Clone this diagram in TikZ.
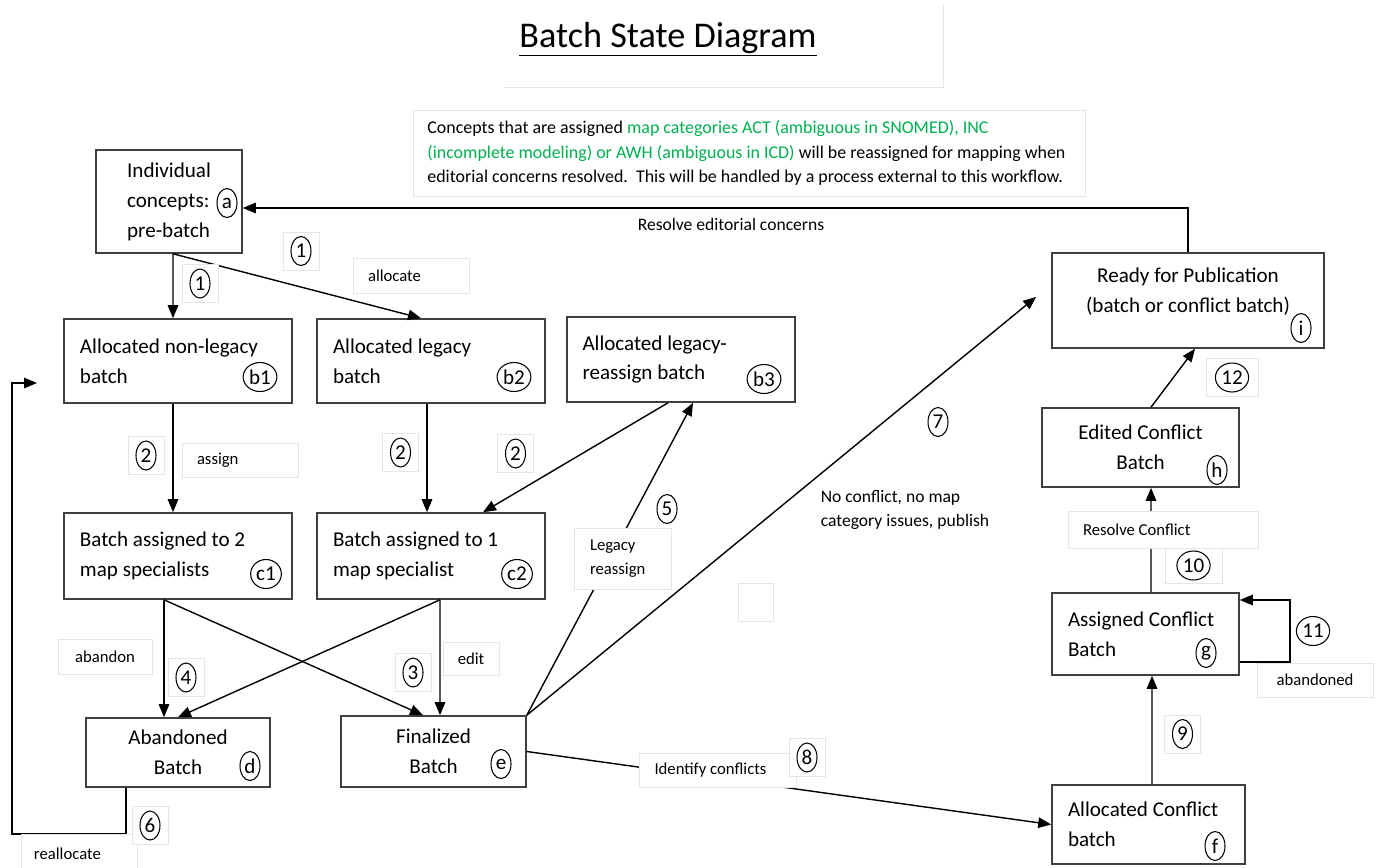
\documentclass[tikz,border=0pt]{standalone}
\usepackage{fontspec}
\setmainfont{Carlito}
\usepackage{xcolor}
\usepackage{tikz}
\usetikzlibrary{positioning, quotes}
\usetikzlibrary{arrows.meta,shapes.geometric}
\definecolor{notegreen}{RGB}{0,176,80}

\begin{document}
\begin{tikzpicture}
        [
        x=0.2mm, y=-0.2mm,
        >={Triangle[length=2.6mm,width=2.1mm]},
        state/.style = {draw=black!75, line width=0.9pt, inner sep=0pt, font=\fontsize{12}{17}\selectfont},
        lstate/.style = {state, align=flush left},
        cstate/.style = {state, align=center},
        tag/.style = {ellipse, draw, line width=0.6pt, inner sep=0.6pt, minimum width=4mm, minimum height=5.8mm, font=\fontsize{12}{12}\selectfont},
        numbox/.style = {draw=black!10, fill=white, minimum width=7.2mm, minimum height=7.6mm},
        lbl/.style = {draw=black!10, fill=white, inner sep=0pt, font=\fontsize{9.5}{14}\selectfont},
        flow/.style = {->, line width=0.8pt}
        ]
    \useasboundingbox (0,0) rectangle (1379,867);

    \node[anchor=base, font=\fontsize{20.6}{24}\selectfont] (title) at (668,47) {\underline{Batch State Diagram}};
    \draw[black!10] (505,87) -- (943,87) -- (943,5);
    \node[lbl, anchor=west, inner xsep=2.8mm, minimum height=17.2mm, text width=128.8mm, align=flush left, font=\fontsize{10.2}{14}\selectfont] (note) at (413,153)
        {Concepts that are assigned {\color{notegreen}map categories ACT (ambiguous in SNOMED), INC}\\
         {\color{notegreen}(incomplete modeling) or AWH (ambiguous in ICD)} will be reassigned for mapping when\\
         editorial concerns resolved.\ \ This will be handled by a process external to this workflow.};

    \node[cstate, minimum width=29.2mm, minimum height=20.6mm, align=left] (a) at (169,201.5) {Individual\\concepts:\hspace{5mm}\\pre-batch};
    \node[lstate, minimum width=45.6mm, minimum height=16.8mm, text width=39.2mm] (b1) at (178,361) {Allocated non-legacy\\batch};
    \node[lstate, minimum width=45.6mm, minimum height=16.8mm, text width=39.2mm] (b2) at (431,361) {Allocated legacy\\batch};
    \node[lstate, minimum width=45.6mm, minimum height=17mm, text width=39.4mm] (b3) at (681,359.5) {Allocated legacy-\\reassign batch};
    \node[lstate, minimum width=45.6mm, minimum height=17.2mm, text width=39.2mm] (c1) at (178,556) {Batch assigned to 2\\map specialists};
    \node[lstate, minimum width=45.6mm, minimum height=17.2mm, text width=39.2mm] (c2) at (431,556) {Batch assigned to 1\\map specialist};
    \node[cstate, minimum width=36.8mm, minimum height=13.8mm] (d) at (178,752.5) {Abandoned\\Batch};
    \node[cstate, minimum width=37mm, minimum height=14.2mm] (e) at (433.5,751.5) {Finalized\\Batch};
    \node[lstate, minimum width=38.6mm, minimum height=15.8mm, text width=32.2mm] (f) at (1148.5,824.5) {Allocated Conflict\\batch};
    \node[lstate, minimum width=37.4mm, minimum height=16.4mm, text width=31mm] (g) at (1145.5,634) {Assigned Conflict\\Batch};
    \node[cstate, minimum width=39.4mm, minimum height=15.8mm] (h) at (1140.5,447.5) {Edited Conflict\\Batch};
    \node[cstate, minimum width=54.4mm, minimum height=19mm] (i) at (1188,300.5) {Ready for Publication\\(batch or conflict batch)\\[-2mm]};

    \node[tag] (ta) at (227,203) {a};
    \node[tag] (tb1) at (260,377) {b1};
    \node[tag] (tb2) at (514,377) {b2};
    \node[tag] (tb3) at (764,379) {b3};
    \node[tag] (tc1) at (266,574) {c1};
    \node[tag] (tc2) at (517,574) {c2};
    \node[tag] (td) at (250,766) {d};
    \node[tag] (te) at (501,764) {e};
    \node[tag] (tf) at (1215,846) {f};
    \node[tag] (tg) at (1206,653) {g};
    \node[tag] (th) at (1217,470) {h};
    \node[tag] (ti) at (1301,328) {i};

    \coordinate (realloc) at (37,383);

    \draw[flow] ([xshift=0.8mm]a.south) -- ([xshift=-1mm]b1.north);
    \draw[flow] ([xshift=0.8mm]a.south) -- ([xshift=-2mm]b2.north);
    \draw[flow] ([xshift=-1mm]b1.south) -- ([xshift=-1mm]c1.north);
    \draw[flow] ([xshift=-0.8mm]b2.south) -- ([xshift=-0.8mm]c2.north);
    \draw[flow] ([xshift=-2.6mm]b3.south) -- ([xshift=10.4mm]c2.north);
    \draw[flow] ([xshift=-2.8mm]c1.south) -- ([xshift=-2.8mm]d.north);
    \draw[flow] ([xshift=-2.8mm]c1.south) -- ([xshift=-2.1mm]e.north);
    \draw[flow] ([xshift=1.8mm]c2.south) -- ([xshift=1.3mm]e.north);
    \draw[flow] ([xshift=1.8mm]c2.south) -- ([xshift=0mm]d.north);
    \draw[flow] (e.north east) -- ([xshift=2.4mm]b3.south);
    \draw[flow, shorten >=3.9mm] (e.north east) -- ([yshift=3.2mm]i.west);
    \draw[flow] (e.east) -- (f.west);
    \draw[flow] ([xshift=0.7mm]f.north) -- ([xshift=1.3mm]g.south);
    \draw[flow] ([xshift=1.1mm]g.north) -- ([xshift=2.1mm]h.south);
    \draw[flow] ([xshift=2.1mm]h.north) -- ([xshift=1.4mm]i.south);
    \draw[flow] ([yshift=-5.6mm]g.east) -- ++(50,0) |- ([yshift=6.8mm]g.east);
    \draw[flow] (i.north) |- ([yshift=-1.3mm]a.east);
    \draw[flow] ([xshift=-10.4mm]d.south) -- ++(0,46) -| ([xshift=-5mm]realloc) -- (realloc);

    \node[lbl, minimum width=23.2mm, minimum height=7mm, text width=17.2mm, align=flush left] (lalloc) at (411,275.5) {allocate};
    \node[lbl, minimum width=23.2mm, minimum height=6.8mm, text width=17.2mm, align=flush left] (lassign) at (240,460) {assign};
    \node[lbl, minimum width=18.8mm, minimum height=7mm] (labandon) at (105,656.5) {abandon};
    \node[lbl, minimum width=11.2mm, minimum height=6.6mm] (ledit) at (471,658.5) {edit};
    \node[lbl, minimum width=23.2mm, minimum height=8mm, text width=18mm, align=flush left] (lrealloc) at (79,854) {reallocate};
    \node[lbl, minimum width=19.4mm, minimum height=12.2mm, text width=13mm, align=flush left] (llegacy) at (622.5,558.5) {Legacy\\reassign};
    \node[lbl, minimum width=38mm, minimum height=7.4mm, text width=32mm, align=flush left] (lresolve) at (1163,529.5) {Resolve Conflict};
    \node[lbl, minimum width=23.2mm, minimum height=6.8mm] (labandoned) at (1315,680) {abandoned};
    \node[lbl, minimum width=31.4mm, minimum height=6.8mm, text width=25.2mm, align=flush left] (lident) at (717.5,770) {Identify conflicts};
    \node[draw=black!10, minimum width=7mm, minimum height=7.6mm] (blank) at (755.5,602) {};
    \node[font=\fontsize{10}{12}\selectfont] (leditorial) at (731,224) {Resolve editorial concerns};
    \node[align=left, font=\fontsize{10}{14}\selectfont] (lpublish) at (905,510) {No conflict, no map\\category issues, publish};

    \node[numbox, label={[tag]center:1}] (n1a) at (200,283.5) {};
    \node[numbox, label={[tag]center:1}] (n1b) at (301,251) {};
    \node[numbox, label={[tag]center:2}] (n2a) at (146,455.5) {};
    \node[numbox, label={[tag]center:2}] (n2b) at (400.5,452.5) {};
    \node[numbox, label={[tag]center:2}] (n2c) at (515.5,453.5) {};
    \node[numbox, label={[tag]center:3}] (n3) at (413,672.5) {};
    \node[numbox, label={[tag]center:4}] (n4) at (186,677.5) {};
    \node[tag] (n5) at (667,509) {5};
    \node[numbox, label={[tag]center:6}] (n6) at (150,825.5) {};
    \node[tag] (n7) at (938,422) {7};
    \node[numbox, label={[tag]center:8}] (n8) at (807,757.5) {};
    \node[numbox, label={[tag]center:9}] (n9) at (1182.5,734) {};
    \node[numbox, minimum width=11.4mm, minimum height=7mm, label={[tag]center:10}] (n10) at (1193.5,565.5) {};
    \node[tag] (n11) at (1313,631) {11};
    \node[numbox, minimum width=10.4mm, label={[tag]center:12}] (n12) at (1232,377.5) {};
\end{tikzpicture}
\end{document}
